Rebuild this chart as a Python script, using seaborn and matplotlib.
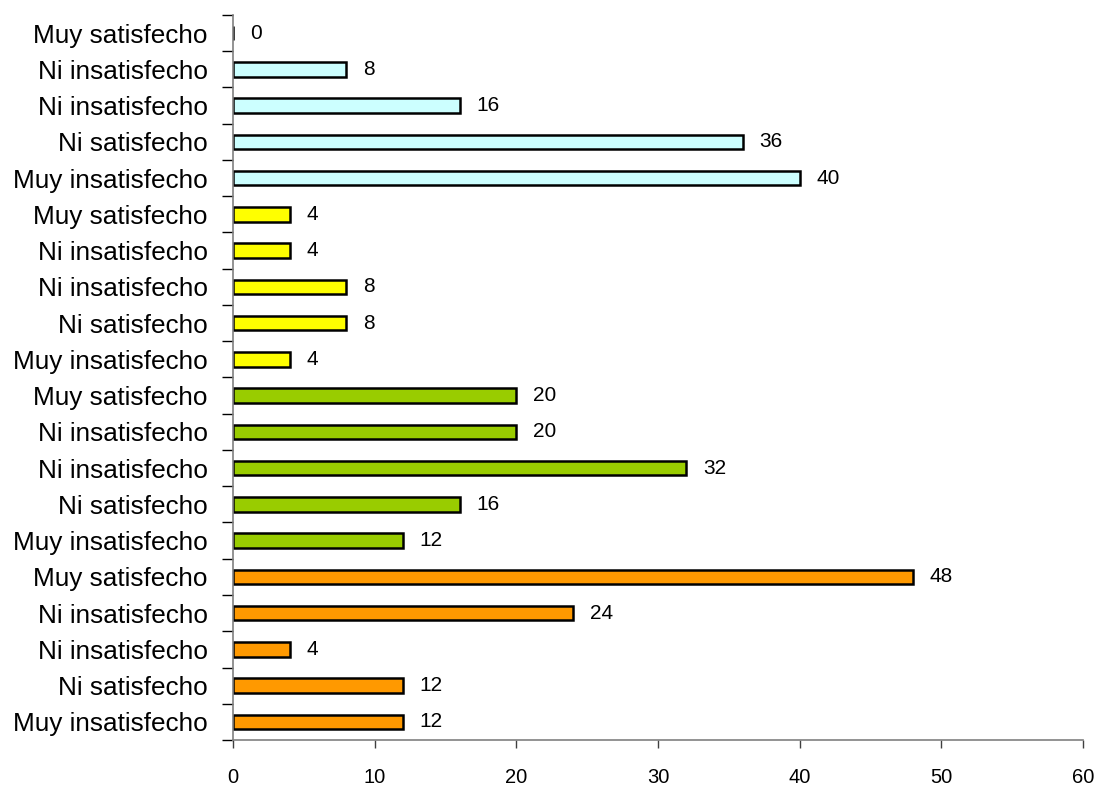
import numpy as np
import pandas as pd
import seaborn as sns
import matplotlib.pyplot as plt
from matplotlib.ticker import FixedLocator

# data, top to bottom
labels = ["Muy satisfecho", "Ni insatisfecho", "Ni insatisfecho", "Ni satisfecho", "Muy insatisfecho"] * 4
values = [0, 8, 16, 36, 40,
          4, 4, 8, 8, 4,
          20, 20, 32, 16, 12,
          48, 24, 4, 12, 12]
groups = ["g1"] * 5 + ["g2"] * 5 + ["g3"] * 5 + ["g4"] * 5
colors = {"g1": "#CCFFFF", "g2": "#FFFF00", "g3": "#99CC00", "g4": "#FF9900"}

df = pd.DataFrame({"pos": [str(i) for i in range(len(values))],
                   "value": values, "group": groups})

sns.set_style("white")
plt.rcParams['font.family'] = ['Liberation Sans', 'DejaVu Sans']
plt.rcParams['text.color'] = 'black'
plt.rcParams['xtick.color'] = 'black'
plt.rcParams['ytick.color'] = 'black'

fig, ax = plt.subplots(figsize=(11, 7.87), dpi=100)
fig.subplots_adjust(left=0.2118, right=0.9845, bottom=0.0597, top=0.981)

sns.barplot(data=df, x="value", y="pos", hue="group", palette=colors,
            dodge=False, width=0.4, orient="h", edgecolor="black",
            linewidth=1.8, saturation=1, legend=False, ax=ax)

ax.set_xlim(0, 60)
ax.set_ylim(len(values) - 0.5, -0.5)
ax.set_xticks(np.arange(0, 61, 10))
ax.set_yticks(range(len(values)))
ax.set_yticklabels(labels, fontsize=18.8)
ax.yaxis.set_minor_locator(FixedLocator(np.arange(-0.5, len(values), 1)))
ax.tick_params(axis="y", which="major", length=0, pad=18)
ax.tick_params(axis="y", which="minor", length=8, width=1, color="black", direction="out", left=True)
ax.tick_params(axis="x", length=6, width=1, color="#404040", direction="out", bottom=True, labelsize=14.5, pad=14)
ax.set_xlabel("")
ax.set_ylabel("")

sns.despine(ax=ax)
for s in ["left", "bottom"]:
    ax.spines[s].set_color("#808080")
    ax.spines[s].set_linewidth(1.2)

for i, v in enumerate(values):
    ax.annotate(str(v), (v, i), xytext=(12, 0), textcoords="offset points",
                ha="left", va="center", fontsize=15)

plt.savefig("out.png", dpi=100)
